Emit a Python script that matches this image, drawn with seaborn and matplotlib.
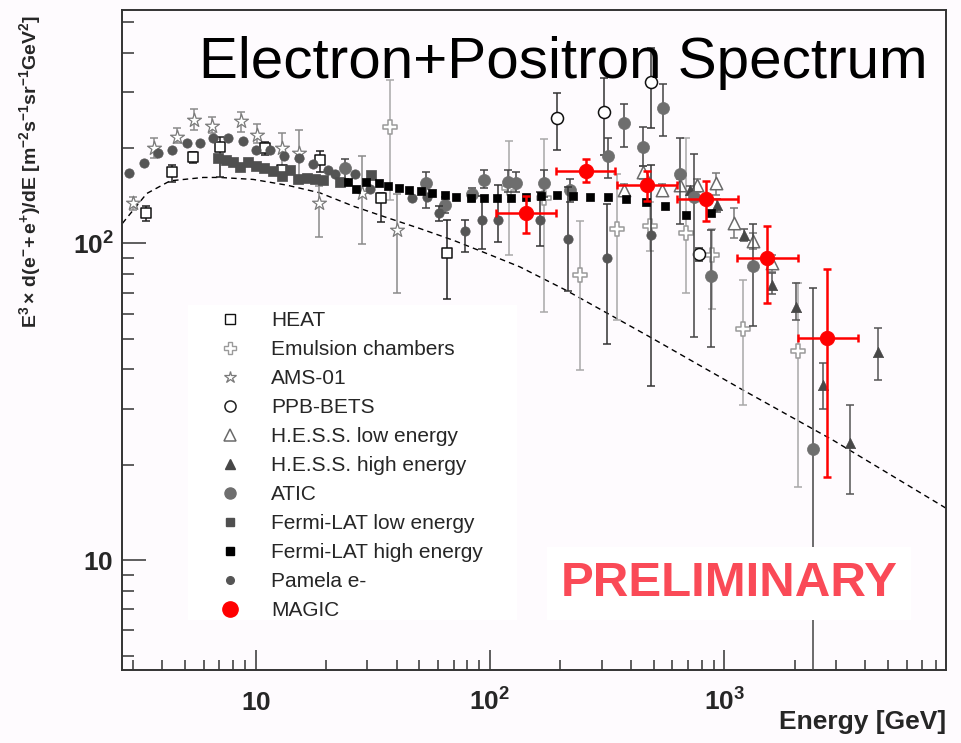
import matplotlib
matplotlib.use("Agg")
import matplotlib.pyplot as plt
from matplotlib.lines import Line2D
from matplotlib.patches import Rectangle
from matplotlib.ticker import FixedLocator, LogLocator, NullFormatter
import seaborn as sns
import numpy as np

# ---------------- data ----------------
model_e = [2.7, 3.43, 4.32, 5.98, 7.04, 9.77, 13.6, 18.8, 26.1, 36.2, 50.2, 69.7, 96.8, 134, 211, 481, 1206, 2920, 8830]
model_f = [115.7, 143.8, 157.7, 161.6, 161.6, 159.3, 152.8, 144.5, 131.2, 120.8, 111.5, 102.4, 93, 84.4, 71.2, 50.7, 34.4, 23.9, 14.6]

heat_e = [3.4, 4.38, 5.4, 7.04, 11.0, 13.0, 18.8, 34.4, 65.6]
heat_f = [125, 168, 188, 202, 200, 170, 183, 139, 93]
heat_hi = [131, 176.7, 194.6, 217, 208.4, 175, 196.3, 144.5, 119]
heat_lo = [117.6, 156.5, 178.9, 161.6, 190, 165, 168, 117, 67]

emul_e = [37.4, 121, 170, 242, 347, 480, 690, 888, 1200, 2070]
emul_f = [233, 150, 138.7, 79.4, 110.7, 113.6, 108, 91.8, 53.6, 45.8]
emul_hi = [328, 211, 213, 118, 166, 135, 215, 111, 76.6, 74.8]
emul_lo = [137, 92, 60.6, 39.8, 57.3, 95, 70, 62, 30.9, 17.0]

ams_e = [3.0, 3.7, 4.6, 5.45, 6.5, 8.7, 10.1, 13.0, 15.3, 18.6, 28.4, 40.3]
ams_f = [134, 199.5, 217, 246, 235, 243, 220, 200, 193, 134, 144.5, 110]
ams_hi = [140, 214.6, 232, 265, 250, 260, 238, 223, 228, 151.7, 189, 143.8]
ams_lo = [128, 185.5, 207, 229, 222.5, 225, 207, 170, 160, 105, 99.5, 69.8]

ppb_e = [194, 308, 489, 777]
ppb_f = [249, 260, 324, 92.3]
ppb_hi = [299, 332, 414, 97]
ppb_lo = [197, 190, 231, 88]

hessl_e = [373, 448, 544, 647, 762, 920, 1104, 1330, 1600]
hessl_f = [148, 168, 148, 153, 152.6, 155, 116, 102, 86.5]
hessl_hi = [154, 176, 154, 160, 160, 167, 129.3, 108, 92]
hessl_lo = [142, 160, 142, 146, 145, 142, 103.9, 96, 81]

hessh_e = [714, 930, 1210, 1600, 2030, 2650, 3440, 4530]
hessh_f = [147, 132, 106.7, 73.8, 63.1, 35.7, 23.4, 45.5]
hessh_hi = [152, 138, 111, 80.4, 74.9, 41.9, 30.9, 54]
hessh_lo = [142, 126, 102, 69.5, 57.3, 30, 16.2, 37]

atic_e = [24.0, 53.2, 64.3, 84, 94, 119, 129, 170, 220, 319, 372, 452, 550, 647, 740, 881, 1330, 2390]
atic_f = [172.5, 155, 132, 143, 159, 156.5, 155, 155, 147, 189, 240, 201, 268, 165.5, 140, 78.8, 84.8, 22.4]
atic_hi = [185, 168.5, 140, 150, 170, 170, 168, 170, 160, 216, 276, 233, 318, 214.6, 191, 110, 115.6, 72.5]
atic_lo = [160, 129, 125, 136, 150, 145, 145, 140, 135, 161, 201, 175, 218, 115.6, 50.7, 47, 54.8, 3.0]

fermil_e = [6.93, 7.5, 8.0, 8.6, 9.3, 10.0, 10.9, 11.9, 12.9, 14.0, 15.2, 16.5, 17.9, 19.3, 22.9, 31.0]
fermil_f = [186, 184, 181, 174, 181, 175.5, 172.5, 169.5, 163, 170, 160, 161, 160, 159, 156.5, 165]

fermih_e = [24.9, 26.9, 29.7, 33.7, 36.8, 41.1, 45.2, 50.6, 56.7, 64.3, 71.8, 82.8, 94, 107.6, 123.6,
            142, 166, 194, 226, 267, 319, 380, 462, 557, 688, 881]
fermih_f = [155.8, 149, 156.5, 155, 151.7, 149.8, 147, 146.3, 144.5, 142, 140, 139, 138.7, 139, 139,
            140, 141, 142, 141.5, 140, 140, 137.7, 135, 131.4, 122.8, 124.4]

pam_e = [2.88, 3.34, 3.84, 4.38, 5.1, 5.79, 6.6, 7.6, 8.8, 10.0, 11.5, 13.2, 15.3, 17.5, 20.3, 21.8, 26.5,
         30.7, 46.3, 54, 60.6, 78.6, 92.2, 108, 163, 216, 316, 489]
pam_f = [167, 180, 193, 198, 207, 207, 215, 214.6, 211, 197, 198, 189, 186, 178, 171, 166, 166,
         149, 138.7, 140, 124.4, 109.3, 118.5, 119, 118.5, 103, 89.7, 106]
pam_hi = [167, 180, 193, 198, 207, 207, 215, 214.6, 211, 197, 198, 189, 186, 178, 171, 166, 166,
          149, 138.7, 140, 131.5, 118.5, 141.5, 153, 145, 151, 133, 177]
pam_lo = [167, 180, 193, 198, 207, 207, 215, 214.6, 211, 197, 198, 189, 186, 178, 171, 166, 166,
          149, 138.7, 140, 118, 93.8, 96, 101, 98, 71, 48, 35.4]

magic_e = [142, 257, 467, 840, 1515, 2740]
magic_f = [124.4, 169.5, 152.8, 138, 89.7, 50.3]
magic_elo = [106, 192, 349, 629, 1137, 2070]
magic_ehi = [191, 342, 631, 1140, 2070, 3740]
magic_hi = [141, 184.5, 169, 158, 113.7, 82.8]
magic_lo = [108, 155.8, 136, 117.7, 64.9, 18.3]

legend_labels = ["HEAT", "Emulsion chambers", "AMS-01", "PPB-BETS", "H.E.S.S. low energy",
                 "H.E.S.S. high energy", "ATIC", "Fermi-LAT low energy", "Fermi-LAT high energy",
                 "Pamela e-", "MAGIC"]
x_ticks = [10, 100, 1000]
x_tick_labels = [r"$\mathbf{10}$", r"$\mathbf{10^{2}}$", r"$\mathbf{10^{3}}$"]
y_ticks = [10, 100]
y_tick_labels = [r"$\mathbf{10}$", r"$\mathbf{10^{2}}$"]
title_text = "Electron+Positron Spectrum"
prelim_text = "PRELIMINARY"
x_label = "Energy [GeV]"
y_label = r"$\mathbf{E^{3}\times\,d(e^{-}\!+e^{+})/dE\ [m^{-2}s^{-1}sr^{-1}GeV^{2}]}$"

# ---------------- style ----------------
sns.set_style("ticks")
plt.rcParams['font.family'] = ['Liberation Sans', 'DejaVu Sans']
plt.rcParams['mathtext.fontset'] = 'custom'
plt.rcParams['mathtext.rm'] = 'Liberation Sans'
plt.rcParams['mathtext.it'] = 'Liberation Sans:italic'
plt.rcParams['mathtext.bf'] = 'Liberation Sans:bold'

BG = '#fefbfe'
fig = plt.figure(figsize=(9.61, 7.43), dpi=100)
fig.patch.set_facecolor(BG)
ax = fig.add_axes([122 / 961, 1 - 670 / 743, 824 / 961, 660 / 743])
ax.set_facecolor(BG)
ax.set_xscale('log')
ax.set_yscale('log')
ax.set_xlim(2.69, 8840)
ax.set_ylim(4.5, 546)

# model curve
sns.lineplot(x=model_e, y=model_f, ax=ax, color='black', lw=1.0, linestyle=(0, (4, 3)),
             sort=False, estimator=None, zorder=1)


def draw(e, f, lo, hi, marker, size, face, edge, ecolor, lwe, z):
    f = np.asarray(f, float)
    yerr = [f - np.asarray(lo, float), np.asarray(hi, float) - f]
    ax.errorbar(e, f, yerr=yerr, fmt='none', ecolor=ecolor, elinewidth=1.1,
                capsize=2.6, capthick=1.1, zorder=z)
    sns.scatterplot(x=e, y=f, marker=marker, s=size, color=face, edgecolor=edge,
                    linewidth=lwe, zorder=z + 0.5, ax=ax, legend=False)


draw(emul_e, emul_f, emul_lo, emul_hi, 'P', 95, 'white', '#9a9a9a', '#a8a8a8', 1.1, 2)
draw(ams_e, ams_f, ams_lo, ams_hi, '*', 110, 'white', '#7a7a7a', '#8a8a8a', 0.9, 3)
draw(heat_e, heat_f, heat_lo, heat_hi, 's', 55, 'white', '#111111', '#222222', 1.1, 4)
draw(ppb_e, ppb_f, ppb_lo, ppb_hi, 'o', 75, 'white', '#111111', '#333333', 1.1, 5)
draw(hessl_e, hessl_f, hessl_lo, hessl_hi, '^', 80, 'white', '#6a6a6a', '#777777', 1.1, 6)
draw(hessh_e, hessh_f, hessh_lo, hessh_hi, '^', 55, '#474747', '#474747', '#555555', 0.5, 6)
draw(atic_e, atic_f, atic_lo, atic_hi, 'o', 75, '#6e6e6e', '#6e6e6e', '#444444', 0.5, 7)
draw(pam_e, pam_f, pam_lo, pam_hi, 'o', 45, '#555555', '#555555', '#333333', 0.5, 8)
sns.scatterplot(x=fermil_e, y=fermil_f, marker='s', s=55, color='#4f4f4f', edgecolor='#4f4f4f',
                linewidth=0.5, zorder=9, ax=ax, legend=False)
sns.scatterplot(x=fermih_e, y=fermih_f, marker='s', s=40, color='black', edgecolor='black',
                linewidth=0.5, zorder=9.5, ax=ax, legend=False)

mf = np.asarray(magic_f, float)
me = np.asarray(magic_e, float)
ax.errorbar(magic_e, magic_f,
            xerr=[me - np.asarray(magic_elo), np.asarray(magic_ehi) - me],
            yerr=[mf - np.asarray(magic_lo), np.asarray(magic_hi) - mf],
            fmt='none', ecolor='#ff0000', elinewidth=1.8, capsize=3.2, capthick=1.8, zorder=10)
sns.scatterplot(x=magic_e, y=magic_f, marker='o', s=110, color='#ff0000', edgecolor='#ff0000',
                linewidth=0.5, zorder=10.5, ax=ax, legend=False)

# ---------------- axes decoration ----------------
for s in ax.spines.values():
    s.set_color('#333333')
    s.set_linewidth(1.4)

ax.xaxis.set_major_locator(FixedLocator(x_ticks))
ax.xaxis.set_minor_locator(LogLocator(base=10, subs=np.arange(2, 10)))
ax.xaxis.set_minor_formatter(NullFormatter())
ax.yaxis.set_major_locator(FixedLocator(y_ticks))
ax.yaxis.set_minor_locator(LogLocator(base=10, subs=np.arange(2, 10)))
ax.yaxis.set_minor_formatter(NullFormatter())
ax.set_xticks(x_ticks, labels=x_tick_labels)
ax.set_yticks(y_ticks, labels=y_tick_labels)

ax.tick_params(axis='x', which='major', direction='in', length=14.4, width=1.1, color='#333333',
               labelsize=19, pad=29, top=False)
ax.tick_params(axis='x', which='minor', direction='in', length=7.2, width=1.1, color='#333333', top=False)
ax.tick_params(axis='y', which='major', direction='in', length=17.3, width=1.1, color='#333333',
               labelsize=19, pad=6, right=False)
ax.tick_params(axis='y', which='minor', direction='in', length=8.6, width=1.1, color='#333333', right=False)
for lbl in ax.get_xticklabels():
    lbl.set_verticalalignment('baseline')

ax.set_xlabel(x_label, fontsize=19, fontweight='bold', loc='right')
ax.xaxis.set_label_coords(1.0, -0.079)
ax.xaxis.label.set_verticalalignment('center')
ax.set_ylabel(y_label, fontsize=14)
ax.yaxis.set_label_coords(-0.1117, 0.756)
ax.yaxis.label.set_verticalalignment('center')

ax.text(0.978, 0.8965, title_text, transform=ax.transAxes, ha='right', va='baseline',
        fontsize=42, color='black', zorder=12)

ax.text(0.7365, 0.112, prelim_text, transform=ax.transAxes, ha='center', va='baseline',
        fontsize=35.5, fontweight='bold', color='#fa4a57', zorder=12,
        bbox=dict(boxstyle='square,pad=0.28', facecolor='white', edgecolor='none'))

# legend
ax.add_patch(Rectangle((0.0801, 0.0758), 0.3993, 0.4773, transform=ax.transAxes,
                       facecolor='white', edgecolor='none', zorder=11))
handles = [
    Line2D([], [], ls='none', marker='s', ms=6.5, mfc='white', mec='#111111', mew=1.0),
    Line2D([], [], ls='none', marker='P', ms=8.5, mfc='white', mec='#9a9a9a', mew=1.0),
    Line2D([], [], ls='none', marker='*', ms=9, mfc='white', mec='#7a7a7a', mew=0.9),
    Line2D([], [], ls='none', marker='o', ms=8, mfc='white', mec='#222222', mew=1.1),
    Line2D([], [], ls='none', marker='^', ms=8, mfc='white', mec='#6a6a6a', mew=1.1),
    Line2D([], [], ls='none', marker='^', ms=7, mfc='#474747', mec='#474747'),
    Line2D([], [], ls='none', marker='o', ms=8, mfc='#6e6e6e', mec='#6e6e6e'),
    Line2D([], [], ls='none', marker='s', ms=6, mfc='#4f4f4f', mec='#4f4f4f'),
    Line2D([], [], ls='none', marker='s', ms=6, mfc='black', mec='black'),
    Line2D([], [], ls='none', marker='o', ms=5.5, mfc='#555555', mec='#555555'),
    Line2D([], [], ls='none', marker='o', ms=11, mfc='#ff0000', mec='#ff0000'),
]
leg = ax.legend(handles, legend_labels, loc='upper left', bbox_to_anchor=(0.0947, 0.5465),
                frameon=False, fontsize=15, handlelength=2.69, handletextpad=0.61,
                labelspacing=0.48, borderpad=0.1, borderaxespad=0, numpoints=1)
leg.set_zorder(12)

fig.savefig("out.png", dpi=100, facecolor=BG)
